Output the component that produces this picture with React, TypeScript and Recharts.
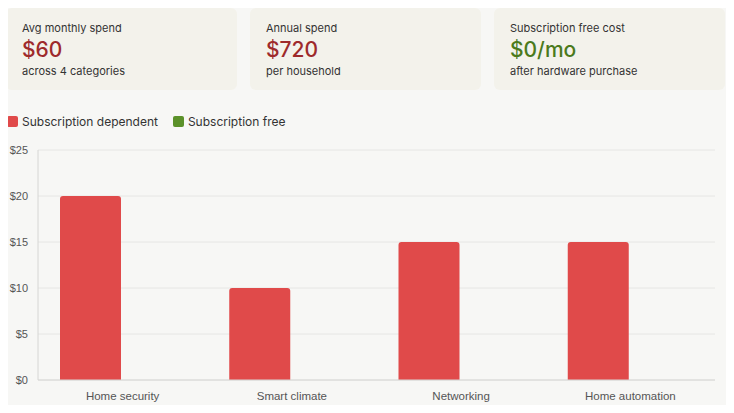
import { Bar, BarChart, CartesianGrid, XAxis, YAxis } from "recharts";

const CATEGORIES = ["Home security", "Smart climate", "Networking", "Home automation"];
const SUB_DEPENDENT = [20, 10, 15, 15];
const SUB_FREE = [0, 0, 0, 0];
const Y_TICKS = [0, 5, 10, 15, 20, 25];

const SERIES = [
  { key: "dependent", name: "Subscription dependent", color: "#e04a4a" },
  { key: "free", name: "Subscription free", color: "#5b9129" },
];

const CARD_TITLES = ["Avg monthly spend", "Annual spend", "Subscription free cost"];
const CARD_VALUES = ["$60", "$720", "$0/mo"];
const CARD_NOTES = ["across 4 categories", "per household", "after hardware purchase"];
const CARD_VALUE_COLORS = ["#9e2a2b", "#9e2a2b", "#4b7a1c"];

const data = CATEGORIES.map((name, i) => ({
  name,
  dependent: SUB_DEPENDENT[i],
  free: SUB_FREE[i],
}));

const UI_FONT = "Inter, 'Noto Sans', sans-serif";
const TICK_FONT = "'Liberation Sans', Arial, sans-serif";

function StatCard({ i }: { i: number }) {
  return (
    <div
      style={{
        position: "absolute",
        left: 6 + i * 244,
        top: 8,
        width: 231,
        height: 82,
        background: "#f3f2eb",
        borderRadius: 6,
        boxSizing: "border-box",
        padding: "12px 0 0 16px",
        fontFamily: UI_FONT,
      }}
    >
      <div style={{ fontSize: 11, color: "#333", lineHeight: "16px" }}>{CARD_TITLES[i]}</div>
      <div style={{ fontSize: 21, color: CARD_VALUE_COLORS[i], lineHeight: "28px", fontWeight: 500 }}>
        {CARD_VALUES[i]}
      </div>
      <div style={{ fontSize: 11, color: "#333", lineHeight: "15px" }}>{CARD_NOTES[i]}</div>
    </div>
  );
}

export default function App() {
  return (
    <div
      style={{
        position: "relative",
        margin: -8,
        width: 734,
        height: 413,
        background: "#f7f7f5",
        overflow: "hidden",
      }}
    >
      {CARD_TITLES.map((_, i) => (
        <StatCard key={i} i={i} />
      ))}

      <div
        style={{
          position: "absolute",
          left: 7,
          top: 114,
          display: "flex",
          gap: 15,
          fontFamily: UI_FONT,
          fontSize: 12,
          color: "#333",
        }}
      >
        {SERIES.map((s) => (
          <div key={s.key} style={{ display: "flex", alignItems: "center", gap: 4 }}>
            <span style={{ width: 11, height: 11, background: s.color, borderRadius: 2, display: "inline-block" }} />
            <span>{s.name}</span>
          </div>
        ))}
      </div>

      <div style={{ position: "absolute", left: 0, top: 140 }}>
        <BarChart
          width={734}
          height={273}
          data={data}
          margin={{ top: 10, right: 19, left: 0, bottom: 3 }}
          barCategoryGap="13%"
          barGap={4}
        >
          <CartesianGrid vertical={false} stroke="#e6e6e4" />
          <XAxis
            dataKey="name"
            tickLine={false}
            stroke="#d6d6d4"
            tick={{ fontSize: 11.5, fill: "#555", fontFamily: TICK_FONT }}
            tickMargin={6}
            height={30}
          />
          <YAxis
            ticks={Y_TICKS}
            domain={[0, 25]}
            tickFormatter={(v: number) => `$${v}`}
            tickLine={false}
            stroke="#d6d6d4"
            tick={{ fontSize: 11, fill: "#555", fontFamily: TICK_FONT }}
            tickMargin={4}
            width={38}
          />
          {SERIES.map((s) => (
            <Bar
              key={s.key}
              dataKey={s.key}
              name={s.name}
              fill={s.color}
              radius={[3, 3, 0, 0]}
              isAnimationActive={false}
            />
          ))}
        </BarChart>
      </div>
    </div>
  );
}
